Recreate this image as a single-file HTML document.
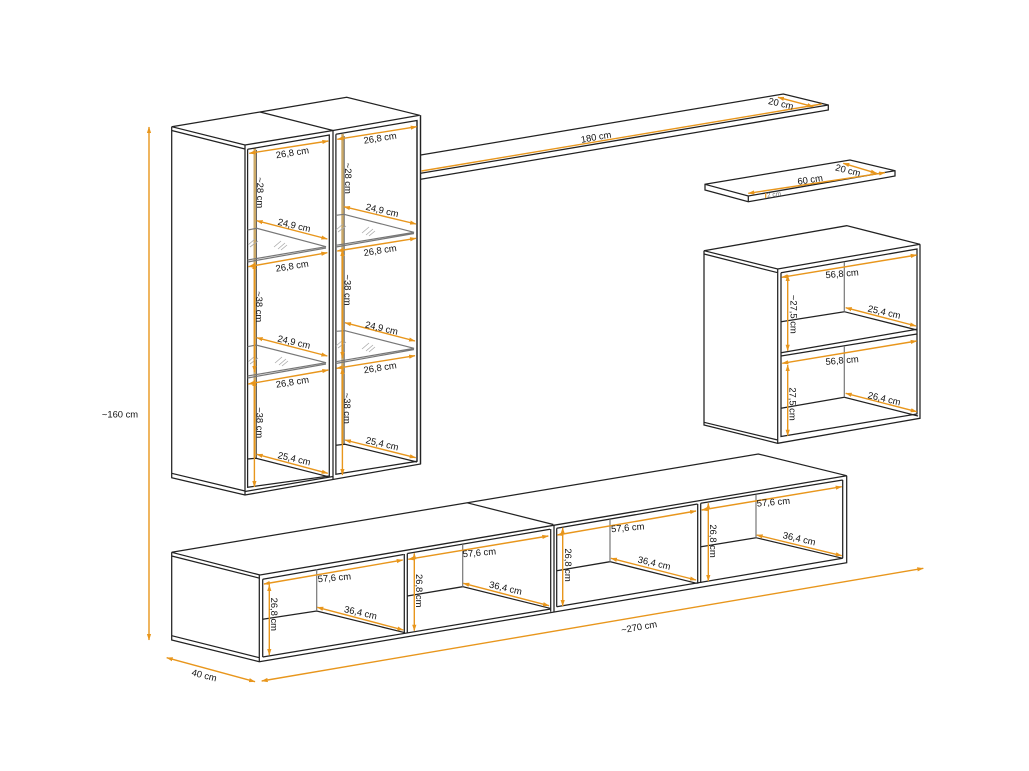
<!DOCTYPE html>
<html><head><meta charset="utf-8"><style>
html,body{margin:0;padding:0;background:#fff}
svg{display:block;filter:blur(.3px)}
text{font-family:"Liberation Sans",sans-serif;font-size:9.4px;fill:#111;text-anchor:middle;dominant-baseline:central}
.k path{fill:none;stroke:#222;stroke-width:1.25}
.g path{fill:none;stroke:#777;stroke-width:1.2}
.h path{fill:none;stroke:#aaa;stroke-width:.8}
.o line{stroke:#e8961c;stroke-width:1.4;marker-start:url(#a);marker-end:url(#a)}
.n{stroke:#e8961c;stroke-width:1.4;fill:none}
</style></head><body>
<svg width="1029" height="771" viewBox="0 0 1029 771" xmlns="http://www.w3.org/2000/svg">
<defs><marker id="a" markerUnits="userSpaceOnUse" markerWidth="7" markerHeight="6" refX="6" refY="3" orient="auto-start-reverse"><path d="M0 .9L6.5 3L0 5.1Z" fill="#e8961c"/></marker></defs>
<rect width="1029" height="771" fill="#fff"/>

<!-- tan back stripes -->
<path d="M254.8 148V458M342.6 134V444" stroke="#cba968" stroke-width="2.6" fill="none"/>
<path d="M256.5 150V458M344.2 136V444" stroke="#555" stroke-width=".9" fill="none"/>

<g class="k">
<!-- tall cabinet -->
<path d="M171.7 126.7L260 112L346.7 97.3L419.7 115.3L333 130.5L245 145Z"/>
<path d="M260 112L333 130.5"/>
<path d="M171.7 126.7V477.7L245 495L420.5 464V115.3"/>
<path d="M171.7 130.5L245 149"/>
<path d="M171.7 473.3L245 491"/>
<path d="M245 145V495M247.6 149.3V487.3L329.3 476V135L247.6 149.3"/>
<path d="M333 130.5V480M335.9 134.2V474.3L417 461.3V120.5L335.9 134.2"/>
<path d="M245 491.5L333 476.5"/>
<path d="M247.6 459L256 458.3L328.3 476.7M335.9 445.3L345 444.3L417 462"/>
<path d="M417 120.5V461M420.5 115.3V464"/>
<!-- long shelf -->
<path d="M420.7 155L783.3 94L828.3 105V110L420.7 179.3M420.7 173.3L828.3 105"/>
<!-- small shelf -->
<path d="M705 184.3L850 160L895 170.7V176L748.3 201.7L705 190ZM705 184.3L748.3 196L895 170.7M748.3 196V201.7"/>
<!-- box -->
<path d="M704 250.7L846.7 225.7L920 244.3L777.7 269ZM704 250.7V425L777.7 443.3L920 418.3V244.3"/>
<path d="M704 254L777.7 272.7M704 422.3L777.7 440M777.7 269V443.3M781 272.7V436.5L917 414V249L781 272.7"/>
<path d="M781 352.7L917 329.3M781 356L917 334"/>
<path d="M781 321.7L844.3 311.7L917 330M781 408.3L844.3 397.3L918 416"/>
<!-- TV units -->
<path d="M171.7 552.3L758.3 454L846.7 475.7L260 575ZM466.7 502.7L553.3 524.5"/>
<path d="M171.7 552.3V640L259.3 661.7L846.7 562.7V475.7"/>
<path d="M171.7 556L260 578.3M171.7 635.7L259.3 657.7M259.3 575V661.7M262.7 579.3V657"/>
<path d="M262.7 579.3L403.5 554.5M407.3 553.5L550 529.3M556.7 528.3L697.5 504M700.7 503.3L842.7 480"/>
<path d="M262.7 657L550.7 609M556.7 606.7L842.7 558.3"/>
<path d="M404.3 554V633M407.3 553.5V632.5M550.7 529V611.7M554 525V612.3M556.7 528.3V606.7M697.7 504V583.7M700.7 503.3V583M842.7 480V558.3"/>
<path d="M262.7 619.3L316.7 611L405 632.7M407.3 596L462.7 586.7L550 608.3M556.7 570.7L610 561.7L696.7 583.3M701 546.7L756 537.7L842.7 558.3"/>
</g>
<g class="g">
<path d="M844.3 261.7V311.7M844.3 346V397.3M316.7 569.3V611M462.7 544.3V586.7M610 519.3V561.7M756 495V537.7"/>
<!-- glass -->
<path d="M247.6 230L256.7 228.3L326 246.7L247.6 260M247.6 262L326 248"/>
<path d="M335.9 215.3L344 214.3L414 232.3L335.9 245.3M335.9 247L414 233.5"/>
<path d="M247.6 346.7L256 345L326 362.7L247.6 376M247.6 378L326 364"/>
<path d="M335.9 331.3L345 330.7L414 348.3L335.9 361.7M335.9 363.5L414 349.5"/>
</g>
<g class="h">
<path d="M274 247L281 241M278 249L285 243M281 250L287 245"/>
<path d="M248 245L255 239M250 247L258 241"/>
<path d="M362 233L369 227M366 235L373 229M369 236L375 231"/>
<path d="M336 230L343 224M338 232L346 226"/>
<path d="M275 363L282 357M279 365L286 359M282 366L288 361"/>
<path d="M248 362L255 356M250 364L258 358"/>
<path d="M362 349L369 343M366 351L373 345M369 352L375 347"/>
<path d="M336 346L343 340M338 348L346 342"/>
</g>

<path class="n" d="M421.5 171L821.7 104"/>
<g class="o">
<line x1="149" y1="127" x2="149" y2="640"/>
<line x1="166.7" y1="657.7" x2="255" y2="681.7"/>
<line x1="261.7" y1="681" x2="923.3" y2="568.3"/>
<!-- tall -->
<line x1="249.3" y1="153.3" x2="328.3" y2="141"/>
<line x1="337.3" y1="139.3" x2="416.7" y2="126.7"/>
<line x1="256.7" y1="220.7" x2="327.3" y2="239"/>
<line x1="248.3" y1="266.7" x2="327.3" y2="252.7"/>
<line x1="344" y1="206.7" x2="416" y2="224"/>
<line x1="337.3" y1="251" x2="416" y2="238.3"/>
<line x1="256.7" y1="337.7" x2="327.3" y2="356"/>
<line x1="248.3" y1="384" x2="328.3" y2="370"/>
<line x1="345" y1="322.7" x2="415" y2="341"/>
<line x1="336.7" y1="368.3" x2="415" y2="355.7"/>
<line x1="256.7" y1="454.3" x2="327.7" y2="473.3"/>
<line x1="345" y1="440" x2="415.7" y2="457.7"/>
<line x1="254.4" y1="380" x2="254.4" y2="487"/>
<line x1="342.4" y1="368" x2="342.4" y2="475"/>
<line x1="254.4" y1="263" x2="254.4" y2="372"/>
<line x1="342.4" y1="250" x2="342.4" y2="358"/>
<!-- shelves -->
<line x1="778" y1="97.3" x2="813.3" y2="106.7"/>
<line x1="748.3" y1="193.3" x2="885" y2="172.7"/>
<line x1="843.3" y1="163.3" x2="876.7" y2="173.3"/>
<!-- box -->
<line x1="781.7" y1="277.3" x2="916.7" y2="255"/>
<line x1="845.7" y1="307.7" x2="916" y2="326"/>
<line x1="787.7" y1="275" x2="787.7" y2="350.7"/>
<line x1="782.3" y1="363.3" x2="916.7" y2="341"/>
<line x1="845.7" y1="393.3" x2="916.7" y2="411.7"/>
<line x1="787.7" y1="365" x2="787.7" y2="435.7"/>
<!-- TV -->
<line x1="264" y1="584" x2="402.7" y2="560"/>
<line x1="317.3" y1="607.3" x2="403.3" y2="630"/>
<line x1="269.3" y1="585" x2="269.3" y2="655"/>
<line x1="408.3" y1="559.3" x2="548.3" y2="536"/>
<line x1="463.3" y1="583.3" x2="549" y2="605.7"/>
<line x1="414.3" y1="553.3" x2="414.3" y2="630.7"/>
<line x1="557.3" y1="535" x2="696" y2="511"/>
<line x1="611" y1="558.3" x2="696" y2="580"/>
<line x1="562.7" y1="527.7" x2="562.7" y2="606"/>
<line x1="701.7" y1="510" x2="841.7" y2="486.7"/>
<line x1="756.7" y1="535" x2="841.7" y2="555.7"/>
<line x1="708.3" y1="503.3" x2="708.3" y2="581"/>
</g>
<path d="M765.7 193V198" stroke="#e8961c" stroke-width="1.2"/>

<text x="120" y="414">~160 cm</text>
<text transform="translate(204.3 675) rotate(14)">40 cm</text>
<text transform="translate(639 626.7) rotate(-10)">~270 cm</text>

<text transform="translate(292.3 152.3) rotate(-9)">26,8 cm</text>
<text transform="translate(380 137.7) rotate(-9)">26,8 cm</text>
<text transform="translate(294.3 225) rotate(13)">24,9 cm</text>
<text transform="translate(382.3 210) rotate(13)">24,9 cm</text>
<text transform="translate(292 265.7) rotate(-9)">26,8 cm</text>
<text transform="translate(380 250) rotate(-9)">26,8 cm</text>
<text transform="translate(294 341.7) rotate(13)">24,9 cm</text>
<text transform="translate(381.7 327.7) rotate(13)">24,9 cm</text>
<text transform="translate(292.3 381.7) rotate(-9)">26,8 cm</text>
<text transform="translate(380 367.3) rotate(-9)">26,8 cm</text>
<text transform="translate(294.3 458.3) rotate(13)">25,4 cm</text>
<text transform="translate(382.3 443.3) rotate(13)">25,4 cm</text>
<text transform="translate(260.7 192.7) rotate(90)">~28 cm</text>
<text transform="translate(348.7 178.3) rotate(90)">~28 cm</text>
<text transform="translate(259.3 306.7) rotate(90)">~38 cm</text>
<text transform="translate(348 290) rotate(90)">~38 cm</text>
<text transform="translate(260 422.7) rotate(90)">~38 cm</text>
<text transform="translate(347.3 408.3) rotate(90)">~38 cm</text>

<text transform="translate(596 136.7) rotate(-10)">180 cm</text>
<text transform="translate(781 103.3) rotate(13)">20 cm</text>
<text transform="translate(810 179.3) rotate(-9)">60 cm</text>
<text transform="translate(848 170) rotate(14)">20 cm</text>
<text transform="translate(774 195) rotate(-8)" style="font-size:6.5px;fill:#777">2 cm</text>

<text transform="translate(842 273.3) rotate(-5)">56,8 cm</text>
<text transform="translate(884.3 311.7) rotate(13)">25,4 cm</text>
<text transform="translate(794 314.3) rotate(90)">~27,5 cm</text>
<text transform="translate(842 360) rotate(-5)">56,8 cm</text>
<text transform="translate(884.3 398.3) rotate(13)">26,4 cm</text>
<text transform="translate(793 404) rotate(90)">27,5 cm</text>

<text transform="translate(334.3 577.3) rotate(-5)">57,6 cm</text>
<text transform="translate(360.7 612.3) rotate(13)">36,4 cm</text>
<text transform="translate(274.3 614.3) rotate(90)">26,8 cm</text>
<text transform="translate(479.3 552.3) rotate(-5)">57,6 cm</text>
<text transform="translate(505.7 587.7) rotate(13)">36,4 cm</text>
<text transform="translate(419.3 590.7) rotate(90)">26,8 cm</text>
<text transform="translate(627.7 527.3) rotate(-5)">57,6 cm</text>
<text transform="translate(654.3 562.7) rotate(13)">36,4 cm</text>
<text transform="translate(568.3 565) rotate(90)">26,8 cm</text>
<text transform="translate(773.3 501.7) rotate(-5)">57,6 cm</text>
<text transform="translate(799.3 538.3) rotate(13)">36,4 cm</text>
<text transform="translate(713.3 541) rotate(90)">26,8 cm</text>
</svg>
</body></html>
